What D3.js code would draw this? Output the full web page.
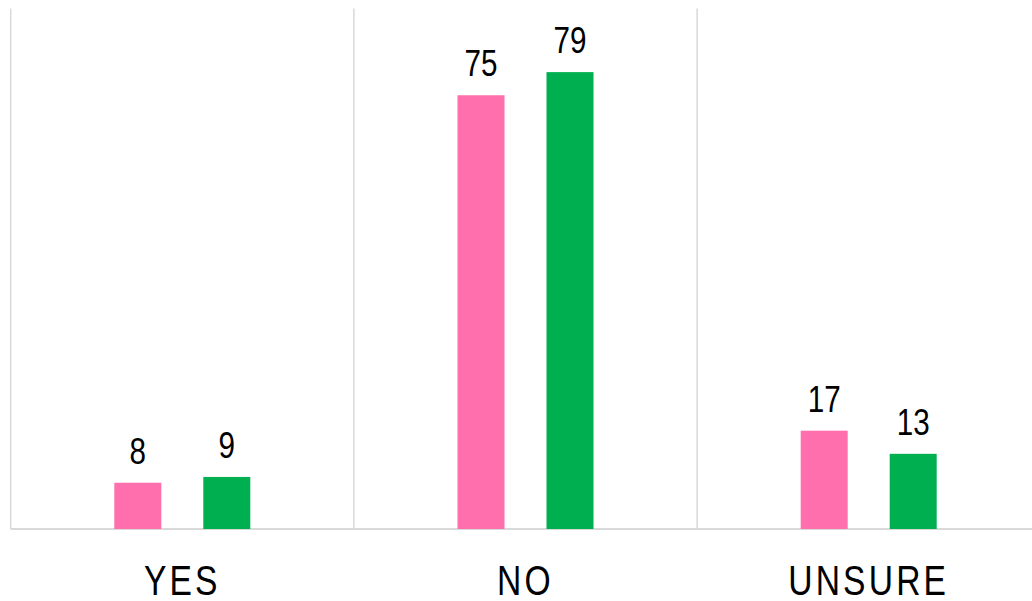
<!DOCTYPE html>
<html>
<head>
<meta charset="utf-8">
<script src="https://cdn.jsdelivr.net/npm/d3@7/dist/d3.min.js"></script>
<style>
  body { margin: 0; background: #fff; }
  svg { display: block; }
</style>
</head>
<body>
<div id="chart"></div>
<script>
// chart values
var categories = ['YES', 'NO', 'UNSURE'];
var seriesNames = ['Series 1', 'Series 2'];
var series1 = [8, 75, 17];
var series2 = [9, 79, 13];
var colors = ['#FF6FAE', '#00B050'];

var width = 1032;
var height = 601;
var plotLeft = 10.7, plotTop = 8.5, baseline = 529;
var catWidth = 343.2;
var narrow = 0.8; // the reference uses a condensed face

var svg = d3.select('#chart')
    .append('svg')
    .attr('width', width)
    .attr('height', height);

var x = d3.scaleBand()
    .domain(categories)
    .range([plotLeft, plotLeft + catWidth * categories.length])
    .paddingInner(0)
    .paddingOuter(0);

// two bars per category, 47px wide with a 42px gap
var inner = d3.scaleBand()
    .domain(seriesNames)
    .range([x.bandwidth() / 2 - 68, x.bandwidth() / 2 + 68])
    .paddingInner(42 / 136 * 2 / (1 + 42 / 136))
    .paddingOuter(0);

var y = d3.scaleLinear()
    .domain([0, 90])
    .range([baseline, plotTop]);

// vertical gridlines between categories
var bounds = categories.map(function(c) { return x(c); });
bounds.push(x.range()[1]);
svg.selectAll('line.grid')
    .data(bounds)
    .enter()
    .append('line')
    .attr('class', 'grid')
    .attr('x1', function(d) { return d; })
    .attr('x2', function(d) { return d; })
    .attr('y1', y(90))
    .attr('y2', baseline)
    .style('stroke', '#D9D9D9')
    .style('stroke-width', 1.5);

// baseline
svg.append('line')
    .attr('x1', plotLeft)
    .attr('x2', x.range()[1])
    .attr('y1', baseline)
    .attr('y2', baseline)
    .style('stroke', '#D9D9D9')
    .style('stroke-width', 2);

var rows = [];
categories.forEach(function(c, i) {
    rows.push({ cat: c, s: seriesNames[0], v: series1[i], color: colors[0] });
    rows.push({ cat: c, s: seriesNames[1], v: series2[i], color: colors[1] });
});

svg.selectAll('rect.bar')
    .data(rows)
    .enter()
    .append('rect')
    .attr('class', 'bar')
    .attr('x', function(d) { return x(d.cat) + inner(d.s); })
    .attr('width', inner.bandwidth())
    .attr('y', function(d) { return y(d.v); })
    .attr('height', function(d) { return baseline - y(d.v); })
    .attr('fill', function(d) { return d.color; });

// value labels
svg.selectAll('text.val')
    .data(rows)
    .enter()
    .append('text')
    .attr('class', 'val')
    .attr('transform', function(d) {
        var cx = x(d.cat) + inner(d.s) + inner.bandwidth() / 2;
        return 'translate(' + cx + ',' + (y(d.v) - 19) + ') scale(' + narrow + ',1)';
    })
    .attr('text-anchor', 'middle')
    .style('font-family', '"Liberation Sans", Arial, sans-serif')
    .style('font-size', '37px')
    .style('fill', '#000')
    .text(function(d) { return d.v; });

// category labels
svg.selectAll('text.cat')
    .data(categories)
    .enter()
    .append('text')
    .attr('class', 'cat')
    .attr('transform', function(d) {
        return 'translate(' + (x(d) + x.bandwidth() / 2) + ',595) scale(' + narrow + ',1)';
    })
    .attr('text-anchor', 'middle')
    .style('font-family', '"Liberation Sans", Arial, sans-serif')
    .style('font-size', '42px')
    .style('letter-spacing', '4px')
    .style('fill', '#000')
    .text(function(d) { return d; });
</script>
</body>
</html>
